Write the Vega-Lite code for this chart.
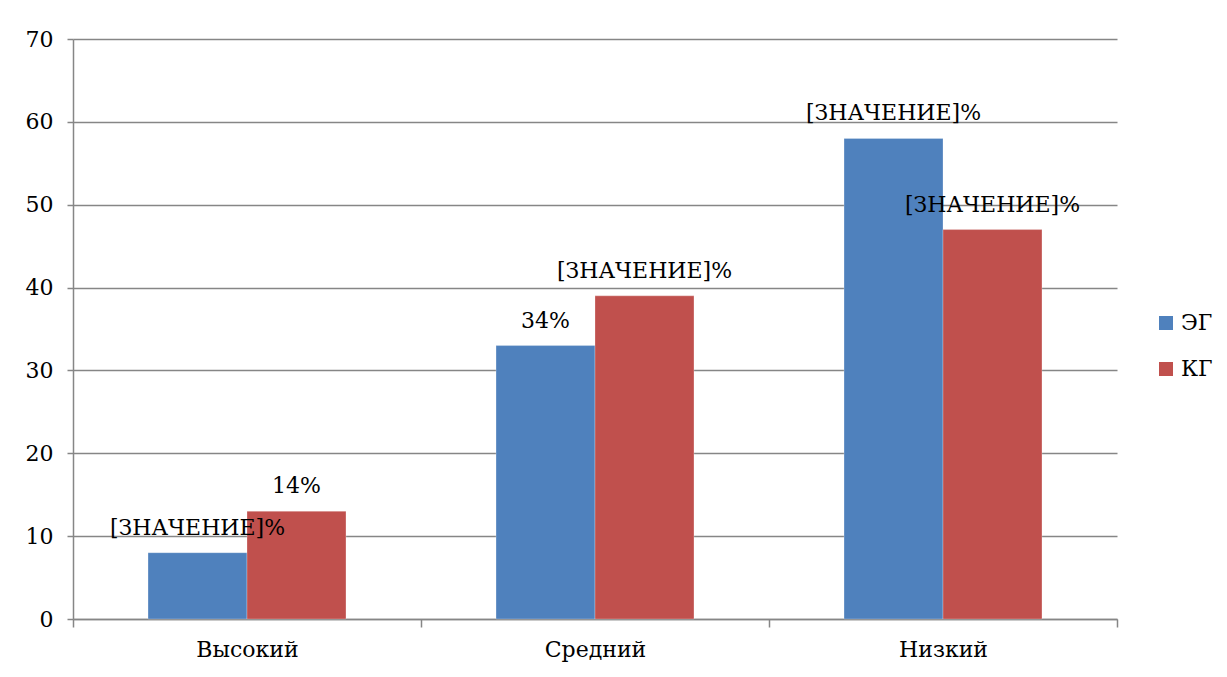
{
  "$schema": "https://vega.github.io/schema/vega-lite/v6.json",
  "autosize": {"type": "none"},
  "width": 1044,
  "height": 580,
  "padding": {"left": 73, "top": 39, "right": 110, "bottom": 58},
  "background": "white",
  "config": {
    "view": {"stroke": null},
    "font": "DejaVu Serif",
    "axis": {"labelFont": "DejaVu Serif", "labelColor": "black", "labelFontSize": 22, "domainColor": "#868686", "tickColor": "#868686", "gridColor": "#868686", "domainWidth": 1.5, "tickWidth": 1.5, "gridWidth": 1.5, "title": null},
    "legend": {"labelFont": "DejaVu Serif", "labelFontSize": 22, "labelColor": "black"}
  },
  "data": {
    "values": [
      {"level": "Высокий", "group": "ЭГ", "value": 8, "label": "[ЗНАЧЕНИЕ]%"},
      {"level": "Высокий", "group": "КГ", "value": 13, "label": "14%"},
      {"level": "Средний", "group": "ЭГ", "value": 33, "label": "34%"},
      {"level": "Средний", "group": "КГ", "value": 39, "label": "[ЗНАЧЕНИЕ]%"},
      {"level": "Низкий", "group": "ЭГ", "value": 58, "label": "[ЗНАЧЕНИЕ]%"},
      {"level": "Низкий", "group": "КГ", "value": 47, "label": "[ЗНАЧЕНИЕ]%"}
    ]
  },
  "encoding": {
    "x": {
      "field": "level", "type": "nominal", "sort": ["Высокий", "Средний", "Низкий"],
      "scale": {"paddingInner": 0, "paddingOuter": 0},
      "axis": {"labelAngle": 0, "tickBand": "extent", "tickSize": 8, "labelPadding": 12, "grid": false}
    },
    "xOffset": {
      "field": "group", "type": "nominal", "sort": ["ЭГ", "КГ"],
      "scale": {"paddingInner": 0, "paddingOuter": 0.758}
    },
    "y": {
      "field": "value", "type": "quantitative",
      "scale": {"domain": [0, 70], "nice": false},
      "axis": {"values": [0, 10, 20, 30, 40, 50, 60, 70], "tickSize": 6, "labelPadding": 14, "grid": true}
    }
  },
  "layer": [
    {
      "mark": {"type": "bar", "stroke": "white", "strokeWidth": 0.5, "strokeOpacity": 0.5},
      "encoding": {
        "color": {
          "field": "group", "type": "nominal",
          "scale": {"domain": ["ЭГ", "КГ"], "range": ["#4F81BD", "#C0504D"]},
          "legend": {"title": null, "orient": "none", "legendX": 1082, "legendY": 273, "symbolType": "square", "symbolSize": 196, "symbolStrokeWidth": 0, "rowPadding": 24, "labelOffset": 4, "padding": 0}
        }
      }
    },
    {
      "mark": {"type": "text", "baseline": "middle", "align": "center", "dy": -25, "fontSize": 22, "font": "DejaVu Serif", "color": "black"},
      "encoding": {"text": {"field": "label"}}
    }
  ]
}
